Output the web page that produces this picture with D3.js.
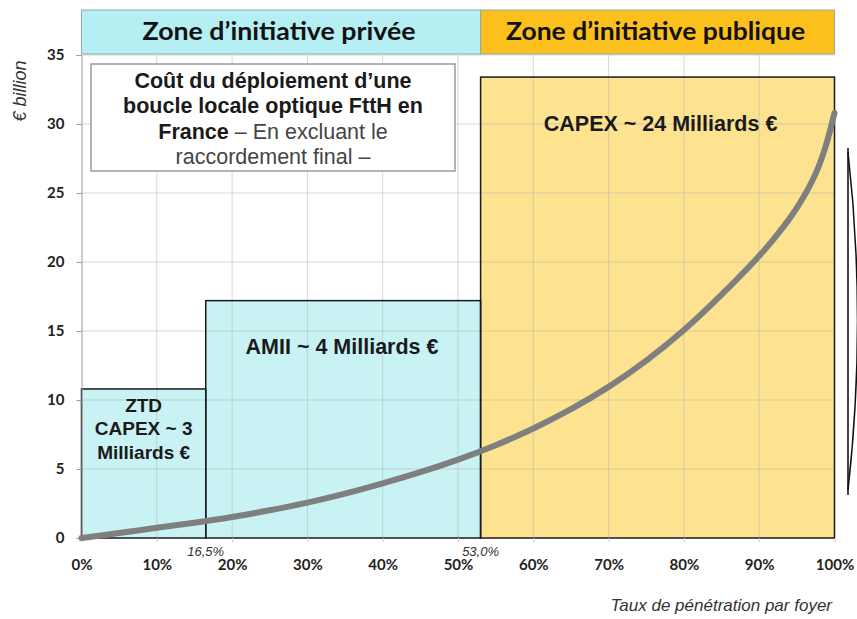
<!DOCTYPE html>
<html>
<head>
<meta charset="utf-8">
<script src="https://cdn.jsdelivr.net/npm/d3@7"></script>
<style>
  body { margin: 0; background: #fff; }
  svg { display: block; }
</style>
</head>
<body>
<div id="chart"></div>
<script>
// cost curve: household penetration (%) -> cumulative cost (€ billion)
const penetration = [0, 5, 10, 15, 20, 25, 30, 35, 40, 45, 50, 55, 60, 65, 70, 75, 80, 85, 90, 92, 94, 95, 96, 97, 98, 99, 100];
const cost = [0, 0.35, 0.75, 1.1, 1.5, 2.0, 2.55, 3.2, 3.95, 4.75, 5.65, 6.7, 7.9, 9.3, 10.9, 12.8, 15.0, 17.6, 20.4, 21.7, 23.1, 23.9, 24.8, 25.8, 27.0, 28.6, 30.8];

// zones (x range in %, box height in € billion)
const zoneNames = ['ZTD', 'AMII', 'CAPEX'];
const zoneStart = [0, 16.5, 53];
const zoneEnd = [16.5, 53, 100];
const zoneTop = [10.8, 17.2, 33.4];
const zoneLabels = [['ZTD', 'CAPEX ~ 3', 'Milliards €'], ['AMII ~ 4 Milliards €'], ['CAPEX ~ 24 Milliards €']];

const headerNames = ['Zone d\u2019initiative privée', 'Zone d\u2019initiative publique'];
const headerStart = [0, 53];
const headerEnd = [53, 100];

const xTicks = [0, 10, 20, 30, 40, 50, 60, 70, 80, 90, 100];
const yTicks = [0, 5, 10, 15, 20, 25, 30, 35];
const markers = [16.5, 53];
const markerLabels = ['16,5%', '53,0%'];

const W = 857, H = 619;
const svg = d3.select('#chart').append('svg').attr('width', W).attr('height', H);

const x = d3.scaleLinear().domain([0, 100]).range([81.5, 834.5]);
const y = d3.scaleLinear().domain([0, 35]).range([538, 55]);

const cyanBox = '#c8f2f3', orangeBox = '#fde28f';
const zoneFill = [cyanBox, cyanBox, orangeBox];
const sans = 'Liberation Sans, Arial, sans-serif';

// zone boxes
svg.selectAll('.zone')
  .data(zoneNames)
  .enter().append('rect')
  .attr('class', 'zone')
  .attr('x', (d, i) => x(zoneStart[i]))
  .attr('y', (d, i) => y(zoneTop[i]))
  .attr('width', (d, i) => x(zoneEnd[i]) - x(zoneStart[i]))
  .attr('height', (d, i) => y(0) - y(zoneTop[i]))
  .attr('fill', (d, i) => zoneFill[i]);

// grid lines
const grid = svg.append('g').attr('stroke', '#b8b8b8').attr('stroke-opacity', 0.55).attr('stroke-width', 1);
grid.selectAll('.gx').data(xTicks.slice(1, -1)).enter().append('line')
  .attr('x1', d => x(d)).attr('x2', d => x(d))
  .attr('y1', y(0)).attr('y2', y(35));
grid.selectAll('.gy').data(yTicks.slice(1)).enter().append('line')
  .attr('x1', x(0)).attr('x2', x(100))
  .attr('y1', d => y(d)).attr('y2', d => y(d));

// zone outlines
svg.selectAll('.zone-border')
  .data(zoneNames)
  .enter().append('rect')
  .attr('x', (d, i) => x(zoneStart[i]))
  .attr('y', (d, i) => y(zoneTop[i]))
  .attr('width', (d, i) => x(zoneEnd[i]) - x(zoneStart[i]))
  .attr('height', (d, i) => y(0) - y(zoneTop[i]))
  .attr('fill', 'none')
  .attr('stroke', '#1a1a1a')
  .attr('stroke-width', 1.5);

// left axis
const yAxis = svg.append('g')
  .attr('transform', `translate(${x(0)},0)`)
  .call(d3.axisLeft(y).tickValues(yTicks).tickSize(5).tickPadding(12));
yAxis.select('.domain').attr('stroke', '#9a9a9a');
yAxis.selectAll('.tick line').attr('stroke', '#9a9a9a');
yAxis.selectAll('.tick text')
  .attr('font-family', 'Lato, sans-serif').attr('font-weight', 700)
  .attr('font-size', 15).attr('fill', '#222');

// bottom axis
const xAxis = svg.append('g')
  .attr('transform', `translate(0,${y(0)})`)
  .call(d3.axisBottom(x).tickValues(xTicks).tickSize(4).tickPadding(17).tickFormat(d => d + '%'));
xAxis.select('.domain').remove();
xAxis.selectAll('.tick line').attr('stroke', '#c8c8c8');
xAxis.selectAll('.tick text')
  .attr('font-family', 'Lato, sans-serif').attr('font-weight', 700)
  .attr('font-size', 15).attr('fill', '#222');

// cost curve
const line = d3.line()
  .x((d, i) => x(penetration[i]))
  .y(d => y(d))
  .curve(d3.curveBasis);
svg.append('path')
  .attr('d', line(cost))
  .attr('fill', 'none')
  .attr('stroke', '#7f7f7f')
  .attr('stroke-width', 6)
  .attr('stroke-linecap', 'round');

// boundary markers
svg.selectAll('.marker')
  .data(markers)
  .enter().append('text')
  .attr('x', d => x(d))
  .attr('y', y(0) + 18)
  .attr('text-anchor', 'middle')
  .attr('font-family', sans)
  .attr('font-style', 'italic')
  .attr('font-size', 13)
  .attr('fill', '#333')
  .text((d, i) => markerLabels[i]);

// zone labels
const labelPos = [
  { cx: x(8.25), cy: 405, fs: 19, lh: 23.5 },
  { cx: x(34.6), cy: 346, fs: 21.5, lh: 20 },
  { cx: x(76.9), cy: 123, fs: 21.5, lh: 20 }
];
zoneLabels.forEach((lines, i) => {
  const p = labelPos[i];
  const t = svg.append('text')
    .attr('text-anchor', 'middle')
    .attr('font-family', sans)
    .attr('font-weight', 700)
    .attr('font-size', p.fs)
    .attr('fill', '#1a1a1a');
  lines.forEach((s, j) => {
    t.append('tspan').attr('x', p.cx).attr('y', p.cy + j * p.lh).attr('dy', '0.35em').text(s);
  });
});

// header band
const headerFill = ['#b5eef3', '#fcc01c'];
const headerWidth = [273, 299];
const hTop = y(35) - 45, hH = 44;
svg.selectAll('.header')
  .data(headerNames)
  .enter().append('rect')
  .attr('x', (d, i) => x(headerStart[i]))
  .attr('y', hTop)
  .attr('width', (d, i) => x(headerEnd[i]) - x(headerStart[i]))
  .attr('height', hH)
  .attr('fill', (d, i) => headerFill[i])
  .attr('stroke', '#8fa9ad')
  .attr('stroke-width', 1);
svg.selectAll('.header-text')
  .data(headerNames)
  .enter().append('text')
  .attr('x', (d, i) => (x(headerStart[i]) + x(headerEnd[i])) / 2 - 2)
  .attr('y', hTop + hH / 2)
  .attr('dy', '0.35em')
  .attr('text-anchor', 'middle')
  .attr('font-family', 'Lato, sans-serif')
  .attr('font-weight', 700)
  .attr('font-size', 24)
  .attr('textLength', (d, i) => headerWidth[i])
  .attr('lengthAdjust', 'spacingAndGlyphs')
  .attr('fill', '#111')
  .text(d => d);

// title box
const box = svg.append('g');
box.append('rect')
  .attr('x', 91).attr('y', 64).attr('width', 364).attr('height', 107)
  .attr('fill', '#fff').attr('stroke', '#9a9a9a').attr('stroke-width', 1.5);
const bt = box.append('text')
  .attr('text-anchor', 'middle')
  .attr('font-family', sans)
  .attr('font-size', 21.5)
  .attr('fill', '#1a1a1a');
const cx = 273;
bt.append('tspan').attr('x', cx).attr('y', 88).attr('font-weight', 700).text('Coût du déploiement d\u2019une');
bt.append('tspan').attr('x', cx).attr('y', 113).attr('font-weight', 700).text('boucle locale optique FttH en');
const l3 = bt.append('tspan').attr('x', cx).attr('y', 139);
l3.append('tspan').attr('font-weight', 700).text('France');
l3.append('tspan').attr('fill', '#444').text(' \u2013 En excluant le');
bt.append('tspan').attr('x', cx).attr('y', 164).attr('fill', '#444').text('raccordement final \u2013');

// axis titles
svg.append('text')
  .attr('transform', 'translate(26,91) rotate(-90)')
  .attr('text-anchor', 'middle')
  .attr('font-family', sans)
  .attr('font-style', 'italic')
  .attr('font-size', 18)
  .attr('fill', '#333')
  .text('€ billion');
svg.append('text')
  .attr('x', 832).attr('y', 611)
  .attr('text-anchor', 'end')
  .attr('font-family', sans)
  .attr('font-style', 'italic')
  .attr('font-size', 17)
  .attr('fill', '#333')
  .text('Taux de pénétration par foyer');

// brace on the right
svg.append('line')
  .attr('x1', 848).attr('x2', 848).attr('y1', 148).attr('y2', 495)
  .attr('stroke', '#444').attr('stroke-width', 2);
svg.append('path')
  .attr('d', 'M848,152 Q867,320 848,490')
  .attr('fill', 'none').attr('stroke', '#111').attr('stroke-width', 1.5);
</script>
</body>
</html>
